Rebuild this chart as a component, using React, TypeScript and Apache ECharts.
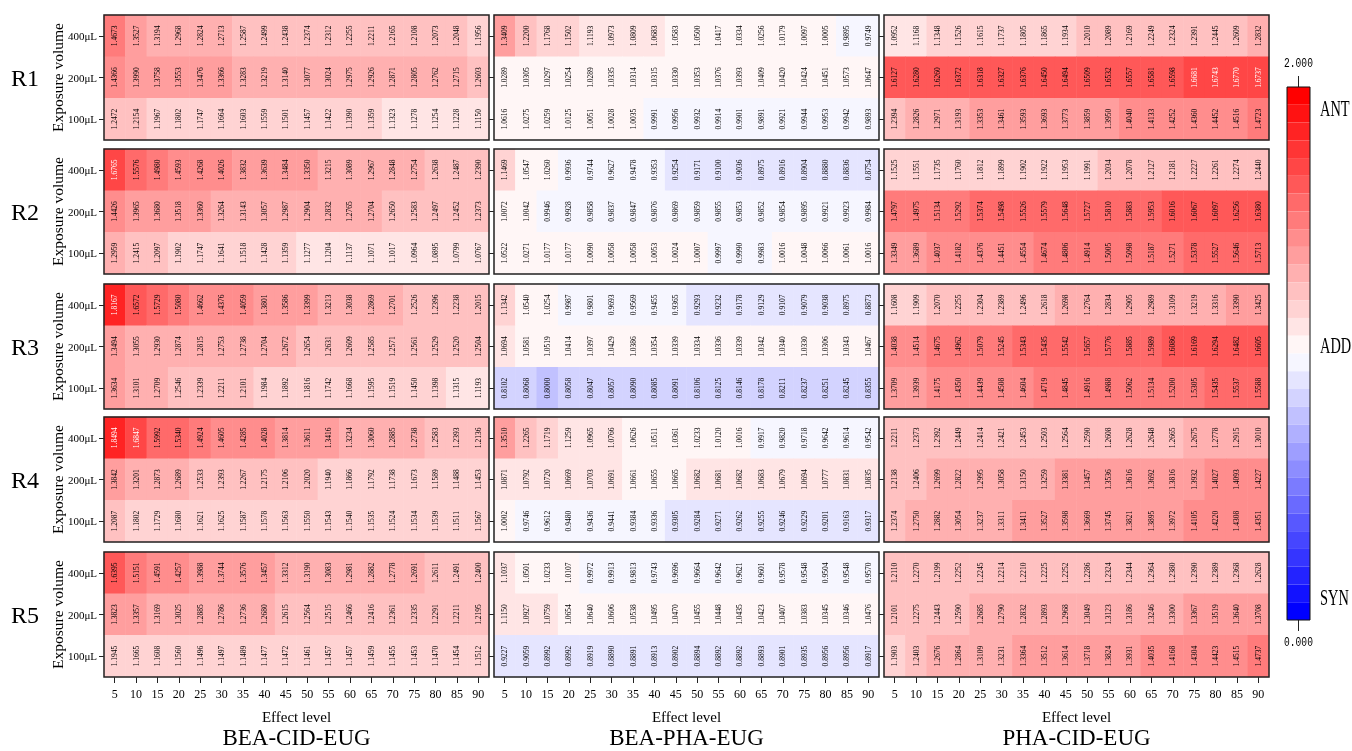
import React, { useEffect, useRef } from "react";
import * as echarts from "echarts";

const effectLevels = ["5", "10", "15", "20", "25", "30", "35", "40", "45", "50", "55", "60", "65", "70", "75", "80", "85", "90"];
const volumes = ["100μL", "200μL", "400μL"];
const rowNames = ["R1", "R2", "R3", "R4", "R5"];
const mixtures = ["BEA-CID-EUG", "BEA-PHA-EUG", "PHA-CID-EUG"];
const colorbarEnds = ["2.000", "0.000"];
const interactionNames = ["ANT", "ADD", "SYN"];

// each panel: [400μL row, 200μL row, 100μL row], effect level 5..90
const bce_r1 = [
  [1.4673, 1.3527, 1.3194, 1.2968, 1.2824, 1.2713, 1.2587, 1.2499, 1.2438, 1.2374, 1.2312, 1.2255, 1.2211, 1.2165, 1.2108, 1.2073, 1.2048, 1.1956],
  [1.4366, 1.3990, 1.3758, 1.3553, 1.3476, 1.3366, 1.3283, 1.3219, 1.3140, 1.3077, 1.3024, 1.2975, 1.2926, 1.2871, 1.2805, 1.2762, 1.2715, 1.2603],
  [1.2472, 1.2154, 1.1967, 1.1802, 1.1747, 1.1664, 1.1603, 1.1559, 1.1501, 1.1457, 1.1422, 1.1390, 1.1359, 1.1323, 1.1278, 1.1254, 1.1228, 1.1150],
];
const bce_r2 = [
  [1.6765, 1.5576, 1.4980, 1.4593, 1.4268, 1.4026, 1.3832, 1.3639, 1.3484, 1.3350, 1.3215, 1.3089, 1.2967, 1.2848, 1.2754, 1.2638, 1.2487, 1.2390],
  [1.4426, 1.3965, 1.3680, 1.3518, 1.3360, 1.3264, 1.3143, 1.3057, 1.2987, 1.2904, 1.2832, 1.2765, 1.2704, 1.2650, 1.2583, 1.2497, 1.2452, 1.2373],
  [1.2959, 1.2415, 1.2097, 1.1902, 1.1747, 1.1641, 1.1518, 1.1428, 1.1359, 1.1277, 1.1204, 1.1137, 1.1071, 1.1017, 1.0964, 1.0895, 1.0799, 1.0767],
];
const bce_r3 = [
  [1.8167, 1.6572, 1.5729, 1.5080, 1.4662, 1.4376, 1.4059, 1.3801, 1.3586, 1.3399, 1.3213, 1.3038, 1.2869, 1.2701, 1.2526, 1.2396, 1.2238, 1.2015],
  [1.3494, 1.3055, 1.2930, 1.2874, 1.2815, 1.2753, 1.2738, 1.2704, 1.2672, 1.2654, 1.2631, 1.2609, 1.2585, 1.2571, 1.2561, 1.2529, 1.2520, 1.2504],
  [1.3634, 1.3101, 1.2709, 1.2546, 1.2339, 1.2211, 1.2101, 1.1984, 1.1892, 1.1816, 1.1742, 1.1668, 1.1595, 1.1519, 1.1450, 1.1398, 1.1315, 1.1193],
];
const bce_r4 = [
  [1.8494, 1.6847, 1.5992, 1.5340, 1.4924, 1.4605, 1.4285, 1.4028, 1.3814, 1.3611, 1.3416, 1.3234, 1.3060, 1.2885, 1.2738, 1.2583, 1.2393, 1.2136],
  [1.3842, 1.3201, 1.2873, 1.2689, 1.2533, 1.2393, 1.2267, 1.2175, 1.2106, 1.2020, 1.1940, 1.1866, 1.1792, 1.1738, 1.1673, 1.1589, 1.1488, 1.1453],
  [1.2087, 1.1802, 1.1729, 1.1680, 1.1621, 1.1625, 1.1587, 1.1578, 1.1563, 1.1550, 1.1543, 1.1540, 1.1535, 1.1524, 1.1534, 1.1539, 1.1511, 1.1567],
];
const bce_r5 = [
  [1.6395, 1.5151, 1.4591, 1.4257, 1.3988, 1.3744, 1.3576, 1.3457, 1.3312, 1.3190, 1.3083, 1.2981, 1.2882, 1.2778, 1.2691, 1.2611, 1.2491, 1.2400],
  [1.3823, 1.3357, 1.3169, 1.3025, 1.2885, 1.2786, 1.2736, 1.2680, 1.2615, 1.2564, 1.2515, 1.2466, 1.2416, 1.2361, 1.2335, 1.2291, 1.2211, 1.2195],
  [1.1945, 1.1665, 1.1608, 1.1560, 1.1496, 1.1497, 1.1489, 1.1477, 1.1472, 1.1461, 1.1457, 1.1457, 1.1459, 1.1455, 1.1453, 1.1470, 1.1454, 1.1512],
];

const bpe_r1 = [
  [1.3409, 1.2200, 1.1768, 1.1502, 1.1193, 1.0973, 1.0809, 1.0683, 1.0583, 1.0500, 1.0417, 1.0334, 1.0256, 1.0179, 1.0097, 1.0005, 0.9895, 0.9749],
  [1.0289, 1.0305, 1.0297, 1.0254, 1.0289, 1.0335, 1.0314, 1.0315, 1.0330, 1.0353, 1.0376, 1.0393, 1.0409, 1.0420, 1.0424, 1.0451, 1.0573, 1.0647],
  [1.0616, 1.0275, 1.0259, 1.0125, 1.0051, 1.0028, 1.0035, 0.9991, 0.9956, 0.9932, 0.9914, 0.9901, 0.9891, 0.9921, 0.9944, 0.9953, 0.9942, 0.9893],
];
const bpe_r2 = [
  [1.1469, 1.0547, 1.0260, 0.9936, 0.9744, 0.9627, 0.9478, 0.9353, 0.9254, 0.9171, 0.9100, 0.9036, 0.8975, 0.8916, 0.8904, 0.8880, 0.8836, 0.8754],
  [1.0072, 1.0042, 0.9946, 0.9928, 0.9858, 0.9837, 0.9847, 0.9876, 0.9869, 0.9859, 0.9855, 0.9853, 0.9852, 0.9854, 0.9895, 0.9921, 0.9923, 0.9984],
  [1.0522, 1.0271, 1.0177, 1.0177, 1.0090, 1.0058, 1.0058, 1.0053, 1.0024, 1.0007, 0.9997, 0.9990, 0.9983, 1.0016, 1.0048, 1.0066, 1.0061, 1.0016],
];
const bpe_r3 = [
  [1.1342, 1.0540, 1.0254, 0.9987, 0.9801, 0.9693, 0.9569, 0.9455, 0.9365, 0.9293, 0.9232, 0.9178, 0.9129, 0.9107, 0.9079, 0.9038, 0.8975, 0.8873],
  [1.0694, 1.0581, 1.0519, 1.0414, 1.0397, 1.0429, 1.0386, 1.0354, 1.0339, 1.0334, 1.0336, 1.0339, 1.0342, 1.0340, 1.0330, 1.0306, 1.0343, 1.0467],
  [0.8102, 0.8068, 0.79998, 0.8058, 0.8047, 0.8057, 0.8090, 0.8085, 0.8091, 0.8106, 0.8125, 0.8146, 0.8178, 0.8211, 0.8237, 0.8251, 0.8245, 0.8355],
];
const bpe_r4 = [
  [1.3510, 1.2265, 1.1719, 1.1259, 1.0965, 1.0766, 1.0626, 1.0511, 1.0361, 1.0233, 1.0120, 1.0016, 0.9917, 0.9820, 0.9718, 0.9642, 0.9614, 0.9542],
  [1.0871, 1.0792, 1.0720, 1.0669, 1.0703, 1.0691, 1.0661, 1.0655, 1.0665, 1.0682, 1.0681, 1.0682, 1.0683, 1.0679, 1.0694, 1.0777, 1.0831, 1.0835],
  [1.0002, 0.9746, 0.9612, 0.9480, 0.9436, 0.9441, 0.9384, 0.9336, 0.9305, 0.9284, 0.9271, 0.9262, 0.9255, 0.9246, 0.9229, 0.9201, 0.9163, 0.9317],
];
const bpe_r5 = [
  [1.1037, 1.0501, 1.0233, 1.0107, 0.9972, 0.9913, 0.9813, 0.9743, 0.9696, 0.9664, 0.9642, 0.9621, 0.9601, 0.9578, 0.9548, 0.9504, 0.9548, 0.9570],
  [1.1150, 1.0927, 1.0759, 1.0654, 1.0640, 1.0606, 1.0538, 1.0495, 1.0470, 1.0455, 1.0448, 1.0435, 1.0423, 1.0407, 1.0383, 1.0345, 1.0346, 1.0476],
  [0.9227, 0.9059, 0.8992, 0.8992, 0.8919, 0.8890, 0.8891, 0.8913, 0.8902, 0.8894, 0.8892, 0.8892, 0.8893, 0.8901, 0.8935, 0.8956, 0.8956, 0.8917],
];

const pce_r1 = [
  [1.0952, 1.1168, 1.1348, 1.1526, 1.1615, 1.1737, 1.1805, 1.1865, 1.1934, 1.2010, 1.2089, 1.2169, 1.2249, 1.2324, 1.2391, 1.2445, 1.2609, 1.2832],
  [1.6127, 1.6280, 1.6260, 1.6372, 1.6318, 1.6327, 1.6376, 1.6450, 1.6494, 1.6509, 1.6532, 1.6557, 1.6581, 1.6598, 1.6681, 1.6743, 1.6770, 1.6737],
  [1.2394, 1.2826, 1.2971, 1.3193, 1.3353, 1.3461, 1.3593, 1.3693, 1.3773, 1.3859, 1.3950, 1.4040, 1.4133, 1.4252, 1.4360, 1.4452, 1.4516, 1.4723],
];
const pce_r2 = [
  [1.1525, 1.1551, 1.1735, 1.1760, 1.1812, 1.1899, 1.1902, 1.1922, 1.1953, 1.1991, 1.2034, 1.2078, 1.2127, 1.2181, 1.2227, 1.2261, 1.2274, 1.2440],
  [1.4797, 1.4975, 1.5134, 1.5292, 1.5374, 1.5498, 1.5526, 1.5579, 1.5648, 1.5727, 1.5810, 1.5883, 1.5953, 1.6016, 1.6067, 1.6097, 1.6256, 1.6380],
  [1.3349, 1.3689, 1.4037, 1.4182, 1.4376, 1.4451, 1.4554, 1.4674, 1.4806, 1.4914, 1.5005, 1.5098, 1.5187, 1.5271, 1.5378, 1.5527, 1.5646, 1.5713],
];
const pce_r3 = [
  [1.1608, 1.1909, 1.2070, 1.2255, 1.2304, 1.2389, 1.2496, 1.2618, 1.2698, 1.2764, 1.2834, 1.2905, 1.2989, 1.3109, 1.3219, 1.3316, 1.3390, 1.3425],
  [1.4038, 1.4514, 1.4675, 1.4962, 1.5079, 1.5245, 1.5343, 1.5435, 1.5542, 1.5657, 1.5776, 1.5885, 1.5989, 1.6086, 1.6169, 1.6294, 1.6482, 1.6605],
  [1.3709, 1.3939, 1.4175, 1.4350, 1.4439, 1.4508, 1.4604, 1.4719, 1.4845, 1.4916, 1.4988, 1.5062, 1.5134, 1.5200, 1.5305, 1.5435, 1.5537, 1.5588],
];
const pce_r4 = [
  [1.2211, 1.2373, 1.2392, 1.2449, 1.2414, 1.2421, 1.2453, 1.2503, 1.2564, 1.2590, 1.2608, 1.2628, 1.2648, 1.2665, 1.2675, 1.2778, 1.2915, 1.3010],
  [1.2138, 1.2406, 1.2699, 1.2822, 1.2995, 1.3058, 1.3150, 1.3259, 1.3381, 1.3457, 1.3536, 1.3616, 1.3692, 1.3816, 1.3932, 1.4027, 1.4093, 1.4227],
  [1.2374, 1.2750, 1.2882, 1.3054, 1.3237, 1.3311, 1.3411, 1.3527, 1.3598, 1.3669, 1.3745, 1.3821, 1.3895, 1.3972, 1.4105, 1.4220, 1.4308, 1.4351],
];
const pce_r5 = [
  [1.2110, 1.2270, 1.2199, 1.2252, 1.2245, 1.2214, 1.2210, 1.2225, 1.2252, 1.2286, 1.2324, 1.2344, 1.2364, 1.2380, 1.2390, 1.2389, 1.2368, 1.2628],
  [1.2101, 1.2275, 1.2443, 1.2590, 1.2685, 1.2790, 1.2832, 1.2893, 1.2968, 1.3049, 1.3123, 1.3186, 1.3246, 1.3300, 1.3367, 1.3519, 1.3640, 1.3708],
  [1.1903, 1.2403, 1.2676, 1.2864, 1.3109, 1.3231, 1.3364, 1.3512, 1.3614, 1.3718, 1.3824, 1.3931, 1.4035, 1.4168, 1.4304, 1.4423, 1.4515, 1.4737],
];

const panelGrid = [
  [bce_r1, bpe_r1, pce_r1],
  [bce_r2, bpe_r2, pce_r2],
  [bce_r3, bpe_r3, pce_r3],
  [bce_r4, bpe_r4, pce_r4],
  [bce_r5, bpe_r5, pce_r5],
];

const SERIF = "'Liberation Serif', 'Times New Roman', serif";
const NBINS = 30;
const VMAX = 2;

function bwr(i: number) {
  const t = i / (NBINS - 1);
  let r: number, g: number, b: number;
  if (t < 0.5) {
    r = g = Math.round(255 * 2 * t);
    b = 255;
  } else {
    r = 255;
    g = b = Math.round(255 * 2 * (1 - t));
  }
  return `rgb(${r},${g},${b})`;
}

export default function App() {
  const ref = useRef<HTMLDivElement>(null);
  useEffect(() => {
    if (!ref.current) return;
    const chart = echarts.init(ref.current, undefined, { renderer: "svg" });
    const lefts = [104, 494, 884];
    const W = 385;
    const tops = [15, 149, 284, 417, 552];
    const H = 125;
    const step = VMAX / NBINS;

    const grids: any[] = [];
    const xAxes: any[] = [];
    const yAxes: any[] = [];
    const series: any[] = [];
    const graphics: any[] = [];

    panelGrid.forEach((row, r) => {
      row.forEach((panel, c) => {
        const idx = r * 3 + c;
        grids.push({ left: lefts[c], top: tops[r], width: W, height: H, containLabel: false });
        xAxes.push({
          type: "category",
          gridIndex: idx,
          data: effectLevels,
          axisLine: { show: false },
          axisTick: { show: r === 4, alignWithLabel: true, length: 6, lineStyle: { color: "#222" } },
          axisLabel: { show: r === 4, fontFamily: SERIF, fontSize: 12, color: "#000", margin: 11 },
          splitLine: { show: false },
        });
        yAxes.push({
          type: "category",
          gridIndex: idx,
          data: volumes,
          axisLine: { show: false },
          axisTick: { show: true, alignWithLabel: true, length: 5, lineStyle: { color: "#222" } },
          axisLabel: { show: c === 0, fontFamily: SERIF, fontSize: 11, color: "#000", margin: 7 },
          splitLine: { show: false },
        });
        const data: any[] = [];
        panel.forEach((vals, k) => {
          vals.forEach((v, x) => {
            data.push({
              value: [x, 2 - k, v],
              label: { color: v >= (5 / 6) * VMAX ? "#fff" : "#000" },
            });
          });
        });
        series.push({
          type: "heatmap",
          xAxisIndex: idx,
          yAxisIndex: idx,
          data,
          label: {
            show: true,
            rotate: 90,
            fontSize: 7.5,
            fontFamily: SERIF,
            formatter: (p: any) => Number(p.value[2]).toFixed(4),
          },
          emphasis: { disabled: true },
        });
        graphics.push({
          type: "rect",
          shape: { x: lefts[c], y: tops[r], width: W, height: H },
          style: { fill: "none", stroke: "#222", lineWidth: 1.5 },
          z: 100,
        });
      });
      graphics.push({
        type: "text",
        x: 25,
        y: tops[r] + H / 2,
        style: { text: rowNames[r], font: `24px ${SERIF}`, fill: "#000", textAlign: "center", textVerticalAlign: "middle" },
      });
      graphics.push({
        type: "text",
        x: 57,
        y: tops[r] + H / 2,
        rotation: Math.PI / 2,
        style: { text: "Exposure volume", font: `15.5px ${SERIF}`, fill: "#000", textAlign: "center", textVerticalAlign: "middle" },
      });
    });

    mixtures.forEach((m, c) => {
      const cx = lefts[c] + W / 2;
      graphics.push({
        type: "text",
        x: cx,
        y: 717,
        style: { text: "Effect level", font: `15px ${SERIF}`, fill: "#000", textAlign: "center", textVerticalAlign: "middle" },
      });
      graphics.push({
        type: "text",
        x: cx,
        y: 737,
        style: { text: m, font: `23px ${SERIF}`, fill: "#000", textAlign: "center", textVerticalAlign: "middle" },
      });
    });

    // colorbar decorations
    const cbLeft = 1287, cbTop = 87, cbW = 23, cbH = 533;
    graphics.push({
      type: "rect",
      shape: { x: cbLeft, y: cbTop, width: cbW, height: cbH },
      style: { fill: "none", stroke: "#111", lineWidth: 1 },
      z: 100,
    });
    graphics.push({ type: "line", shape: { x1: cbLeft + cbW / 2, y1: cbTop - 11, x2: cbLeft + cbW / 2, y2: cbTop }, style: { stroke: "#222", lineWidth: 1 } });
    graphics.push({ type: "line", shape: { x1: cbLeft + cbW / 2, y1: cbTop + cbH, x2: cbLeft + cbW / 2, y2: cbTop + cbH + 11 }, style: { stroke: "#222", lineWidth: 1 } });
    graphics.push({
      type: "text", x: cbLeft + cbW / 2, y: 64, scaleX: 0.8,
      style: { text: colorbarEnds[0], font: "12px 'Liberation Mono', monospace", fill: "#000", textAlign: "center", textVerticalAlign: "middle" },
    });
    graphics.push({
      type: "text", x: cbLeft + cbW / 2, y: 643, scaleX: 0.8,
      style: { text: colorbarEnds[1], font: "12px 'Liberation Mono', monospace", fill: "#000", textAlign: "center", textVerticalAlign: "middle" },
    });
    const labelYs = [108, 345, 597];
    interactionNames.forEach((t, i) => {
      graphics.push({
        type: "text", x: 1320, y: labelYs[i], scaleX: 0.6,
        style: { text: t, font: `24px ${SERIF}`, fill: "#000", textAlign: "left", textVerticalAlign: "middle" },
      });
    });

    const pieces = Array.from({ length: NBINS }, (_, i) => {
      const p: any = { gte: i * step, color: bwr(i) };
      if (i < NBINS - 1) p.lt = (i + 1) * step;
      else p.lte = VMAX;
      return p;
    });

    chart.setOption({
      animation: false,
      textStyle: { fontFamily: SERIF },
      grid: grids,
      xAxis: xAxes,
      yAxis: yAxes,
      visualMap: {
        type: "piecewise",
        seriesIndex: series.map((_, i) => i),
        pieces,
        orient: "vertical",
        left: cbLeft,
        top: cbTop,
        itemWidth: cbW,
        itemHeight: cbH / NBINS,
        itemGap: 0,
        itemSymbol: "rect",
        showLabel: false,
        padding: 0,
        selectedMode: false,
        hoverLink: false,
      },
      series,
      graphic: graphics,
    });
    return () => chart.dispose();
  }, []);
  return <div ref={ref} style={{ position: "fixed", left: 0, top: 0, width: 1352, height: 751 }} />;
}
